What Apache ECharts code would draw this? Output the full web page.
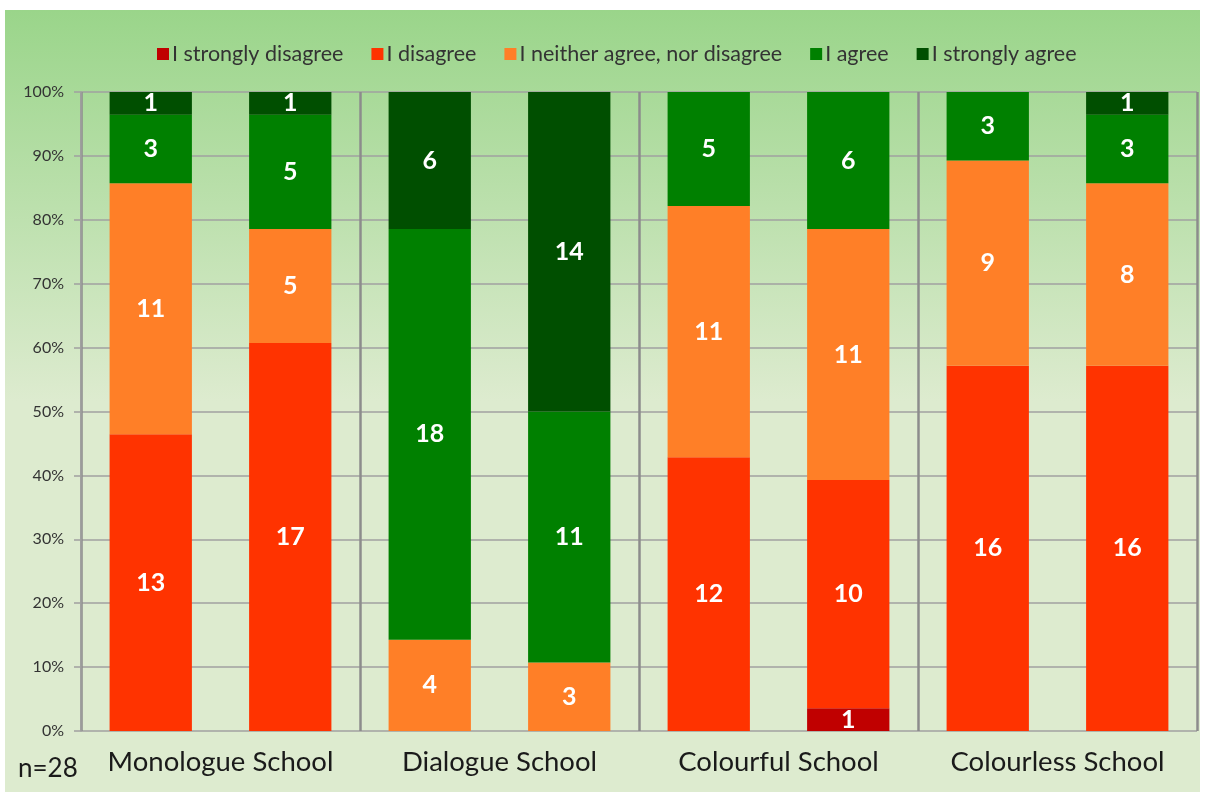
<!DOCTYPE html>
<html>
<head>
<meta charset="utf-8">
<script src="https://cdn.jsdelivr.net/npm/echarts@6/dist/echarts.min.js"></script>
<style>
html,body{margin:0;padding:0;background:#fff;}
#chart{width:1205px;height:792px;}
</style>
</head>
<body>
<div id="chart"></div>
<script>
// ---- data ----
var bars = ['M1','M2','D1','D2','C1','C2','L1','L2'];
var schools = ['Monologue School','Dialogue School','Colourful School','Colourless School'];
var seriesNames = ['I strongly disagree','I disagree','I neither agree, nor disagree','I agree','I strongly agree'];
var stronglyDisagree = [0, 0, 0, 0, 0, 1, 0, 0];
var disagree         = [13, 17, 0, 0, 12, 10, 16, 16];
var neither          = [11, 5, 4, 3, 11, 11, 9, 8];
var agree            = [3, 5, 18, 11, 5, 6, 3, 3];
var stronglyAgree    = [1, 1, 6, 14, 0, 0, 0, 1];
var total = 28;
var colors = ['#C00000','#FF3300','#FF7F27','#008000','#004F00'];

var counts = [stronglyDisagree, disagree, neither, agree, stronglyAgree];
var font = 'Lato, "Open Sans", sans-serif';

var chart = echarts.init(document.getElementById('chart'));
var series = counts.map(function(arr, i){
  return {
    name: seriesNames[i],
    type: 'bar',
    stack: 'all',
    xAxisIndex: 0,
    barWidth: '59%',
    itemStyle: {color: colors[i]},
    label: {
      show: true,
      position: 'inside',
      color: '#fff',
      fontFamily: font,
      fontWeight: 'bold',
      fontSize: 25,
      formatter: function(p){ return arr[p.dataIndex] ? String(arr[p.dataIndex]) : ''; }
    },
    data: arr.map(function(v){ return v / total * 100; })
  };
});

chart.setOption({
  backgroundColor: '#ffffff',
  animation: false,
  graphic: {
    elements: [{
      type: 'rect', z: -100, silent: true,
      shape: {x: 5, y: 10, width: 1195, height: 782},
      style: {fill: new echarts.graphic.LinearGradient(0, 0, 0, 1, [
        {offset: 0, color: '#9AD58A'},
        {offset: 0.5, color: '#DDEBCF'},
        {offset: 1, color: '#DDEBCF'}
      ])}
    }, {
      type: 'text', left: 18, top: 756,
      style: {text: 'n=28', font: '26px ' + font, fill: '#1a1a1a'}
    }]
  },
  legend: {
    top: 38, left: 152,
    itemWidth: 12, itemHeight: 12, itemGap: 28,
    icon: 'rect',
    textStyle: {fontFamily: font, fontSize: 21.5, color: '#333333', padding: [0,0,0,-2]},
    data: seriesNames
  },
  grid: {left: 81, right: 8, top: 92, bottom: 61, containLabel: false},
  xAxis: [{
    type: 'category', data: bars,
    axisLine: {show: false}, axisTick: {show: false}, axisLabel: {show: false},
    splitLine: {show: false}
  }, {
    type: 'category', data: schools, position: 'bottom',
    axisLine: {show: false}, axisTick: {show: false},
    axisLabel: {interval: 0, hideOverlap: false, fontFamily: font, fontSize: 27.5, color: '#1a1a1a', margin: 17},
    splitLine: {show: true, interval: 0, lineStyle: {color: '#8C8C8C', width: 2.5}}
  }],
  yAxis: {
    type: 'value', min: 0, max: 100, interval: 10,
    axisLine: {show: true, lineStyle: {color: '#A0A0A0', width: 1.5}},
    axisTick: {show: true, length: 7, lineStyle: {color: '#A0A0A0', width: 1.5}},
    axisLabel: {formatter: '{value}%', fontFamily: font, fontSize: 16, color: '#333333', margin: 17},
    splitLine: {show: true, lineStyle: {color: '#A0A0A0', width: 1.5}}
  },
  series: series
});
</script>
</body>
</html>
